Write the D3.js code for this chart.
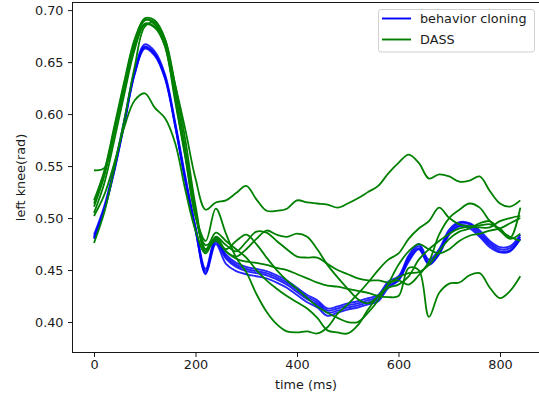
<!DOCTYPE html>
<html><head><meta charset="utf-8">
<script src="https://cdn.jsdelivr.net/npm/d3@7"></script>
<style>body{margin:0;background:#fff}svg{display:block}text{font-family:"DejaVu Sans",sans-serif}</style>
</head><body>
<script>
const times = d3.range(0, 841, 20);
const xTicks = [0, 200, 400, 600, 800];
const yTicks = [0.40, 0.45, 0.50, 0.55, 0.60, 0.65, 0.70];
const seriesNames = ["behavior cloning", "DASS"];

const bc1 = [0.482,0.509,0.547,0.593,0.640,0.665,0.658,0.636,0.590,0.537,0.490,0.449,0.479,0.463,0.455,0.451,0.449,0.447,0.443,0.438,0.431,0.424,0.419,0.411,0.413,0.416,0.418,0.421,0.424,0.437,0.442,0.462,0.473,0.458,0.468,0.487,0.495,0.494,0.486,0.476,0.470,0.471,0.482];
const bc2 = [0.484,0.511,0.550,0.595,0.642,0.667,0.660,0.638,0.592,0.540,0.492,0.451,0.481,0.465,0.457,0.453,0.451,0.449,0.445,0.440,0.433,0.426,0.421,0.413,0.415,0.418,0.420,0.423,0.426,0.439,0.444,0.464,0.475,0.460,0.470,0.489,0.496,0.495,0.488,0.478,0.472,0.473,0.484];
const bc3 = [0.480,0.507,0.545,0.591,0.638,0.663,0.656,0.634,0.588,0.535,0.488,0.447,0.477,0.461,0.453,0.449,0.447,0.445,0.441,0.436,0.429,0.422,0.417,0.409,0.411,0.414,0.416,0.419,0.422,0.435,0.440,0.460,0.471,0.456,0.466,0.485,0.493,0.492,0.484,0.474,0.468,0.469,0.480];
const bc4 = [0.481,0.508,0.546,0.592,0.639,0.664,0.657,0.635,0.589,0.536,0.489,0.446,0.475,0.456,0.449,0.446,0.444,0.442,0.438,0.433,0.426,0.419,0.414,0.406,0.409,0.412,0.414,0.417,0.420,0.433,0.440,0.458,0.470,0.455,0.465,0.484,0.492,0.490,0.482,0.472,0.467,0.468,0.480];

const dass1 = [0.546,0.548,0.583,0.625,0.664,0.687,0.684,0.668,0.628,0.585,0.538,0.508,0.515,0.517,0.524,0.531,0.518,0.507,0.507,0.509,0.517,0.515,0.514,0.513,0.510,0.514,0.519,0.525,0.531,0.543,0.553,0.561,0.553,0.538,0.542,0.540,0.535,0.536,0.540,0.526,0.514,0.511,0.517];
const dass2 = [0.517,0.545,0.588,0.632,0.672,0.691,0.686,0.665,0.612,0.558,0.502,0.478,0.509,0.485,0.462,0.448,0.427,0.410,0.398,0.391,0.390,0.391,0.389,0.395,0.408,0.417,0.427,0.438,0.450,0.460,0.466,0.480,0.490,0.497,0.510,0.500,0.494,0.492,0.491,0.491,0.497,0.500,0.502];
const dass3 = [0.511,0.540,0.582,0.628,0.668,0.690,0.688,0.668,0.618,0.562,0.505,0.468,0.482,0.474,0.468,0.477,0.487,0.486,0.478,0.470,0.463,0.462,0.462,0.456,0.450,0.446,0.442,0.440,0.440,0.438,0.440,0.436,0.445,0.458,0.484,0.500,0.508,0.514,0.510,0.497,0.488,0.482,0.478];
const dass4 = [0.502,0.522,0.553,0.588,0.613,0.620,0.606,0.596,0.572,0.527,0.488,0.466,0.482,0.468,0.461,0.458,0.457,0.455,0.452,0.450,0.446,0.442,0.438,0.435,0.434,0.432,0.430,0.428,0.425,0.424,0.425,0.452,0.450,0.405,0.428,0.437,0.438,0.445,0.447,0.433,0.423,0.430,0.444];
const dass5 = [0.476,0.505,0.548,0.595,0.645,0.684,0.688,0.672,0.628,0.575,0.512,0.470,0.486,0.478,0.470,0.462,0.450,0.440,0.432,0.425,0.419,0.413,0.404,0.392,0.390,0.389,0.397,0.412,0.425,0.433,0.436,0.444,0.460,0.470,0.478,0.485,0.490,0.492,0.493,0.494,0.490,0.481,0.510];
const dass6 = [0.514,0.543,0.586,0.630,0.670,0.692,0.690,0.672,0.622,0.566,0.508,0.470,0.478,0.470,0.478,0.484,0.475,0.462,0.450,0.440,0.432,0.423,0.415,0.409,0.404,0.400,0.400,0.409,0.421,0.437,0.455,0.468,0.475,0.470,0.466,0.470,0.478,0.483,0.485,0.488,0.490,0.495,0.500];
const dass7 = [0.505,0.533,0.575,0.620,0.662,0.686,0.683,0.665,0.615,0.560,0.502,0.474,0.480,0.468,0.463,0.470,0.480,0.488,0.484,0.482,0.485,0.482,0.470,0.455,0.443,0.432,0.422,0.418,0.425,0.436,0.443,0.447,0.448,0.455,0.468,0.480,0.487,0.490,0.495,0.497,0.488,0.480,0.485];

const bcRuns = [bc1, bc2, bc3, bc4];
const dassRuns = [dass1, dass2, dass3, dass4, dass5, dass6, dass7];

const W = 539, H = 396, FS = "12.8px";
const svg = d3.select("body").append("svg").attr("width", W).attr("height", H);
const x = d3.scaleLinear().domain([-42, 882]).range([72.7, 541.6]);
const y = d3.scaleLinear().domain([0.3709, 0.7075]).range([352.3, 2.3]);
const pL = 72.5, pR = 541.6, pT = 2.5, pB = 352.5;

svg.append("clipPath").attr("id", "clip").append("rect")
  .attr("x", pL).attr("y", pT).attr("width", pR - pL).attr("height", pB - pT);

const line = d3.line().x((d, i) => x(times[i])).y(d => y(d)).curve(d3.curveCatmullRom.alpha(0.5));
const g = svg.append("g").attr("clip-path", "url(#clip)");
bcRuns.forEach(r => g.append("path").attr("d", line(r)).attr("fill", "none")
  .attr("stroke", "#0000ff").attr("stroke-width", 1.9).attr("stroke-opacity", 0.85));
dassRuns.forEach(r => g.append("path").attr("d", line(r)).attr("fill", "none")
  .attr("stroke", "#008000").attr("stroke-width", 1.8));

// axes
const xa = svg.append("g").attr("transform", `translate(0,${pB})`)
  .call(d3.axisBottom(x).tickValues(xTicks).tickFormat(d3.format("d")).tickSize(4.5).tickPadding(3));
const ya = svg.append("g").attr("transform", `translate(${pL},0)`)
  .call(d3.axisLeft(y).tickValues(yTicks).tickFormat(d3.format(".2f")).tickSize(4.5).tickPadding(4.5));
[xa, ya].forEach(a => {
  a.select(".domain").remove();
  a.selectAll("line").attr("stroke", "#000").attr("stroke-width", 0.9);
  a.selectAll("text").attr("fill", "#1a1a1a").style("font-size", FS).style("font-family", "DejaVu Sans");
});
svg.append("rect").attr("x", pL).attr("y", pT).attr("width", pR - pL).attr("height", pB - pT)
  .attr("fill", "none").attr("stroke", "#000").attr("stroke-width", 0.9);

svg.append("text").attr("x", 306).attr("y", 389).attr("text-anchor", "middle")
  .style("font-size", FS).attr("fill", "#1a1a1a").text("time (ms)");
svg.append("text").attr("transform", `translate(25,${(pT + pB) / 2}) rotate(-90)`).attr("text-anchor", "middle")
  .style("font-size", FS).attr("fill", "#1a1a1a").text("left knee(rad)");

// legend
const lg = svg.append("g");
lg.append("rect").attr("x", 378.5).attr("y", 9.5).attr("width", 156).attr("height", 42.5).attr("rx", 2.5)
  .attr("fill", "#fff").attr("fill-opacity", 0.8).attr("stroke", "#ccc").attr("stroke-width", 0.9);
const colors = ["#0000ff", "#008000"];
seriesNames.forEach((n, i) => {
  const yy = 18.5 + i * 21;
  lg.append("line").attr("x1", 382).attr("x2", 411).attr("y1", yy).attr("y2", yy)
    .attr("stroke", colors[i]).attr("stroke-width", 1.9);
  lg.append("text").attr("x", 420).attr("y", yy + 4.5).style("font-size", FS).attr("fill", "#1a1a1a").text(n);
});
</script>
</body></html>
